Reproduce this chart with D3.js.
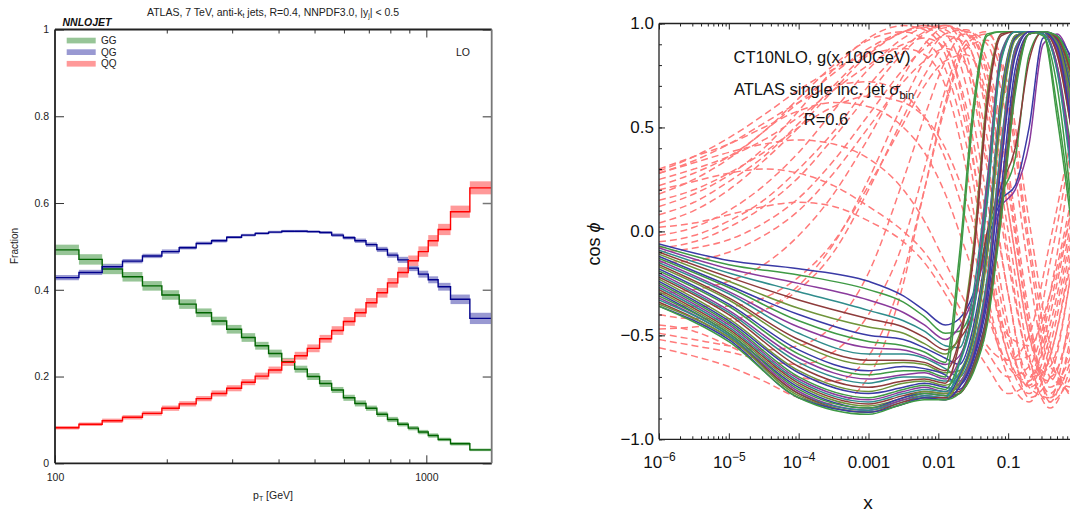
<!DOCTYPE html>
<html>
<head>
<meta charset="utf-8">
<script src="https://cdn.jsdelivr.net/npm/d3@7"></script>
<style>
  body { margin: 0; background: #fff; }
  svg { display: block; font-family: "Liberation Sans", Arial, sans-serif; }
</style>
</head>
<body>
<svg id="chart" width="1070" height="516"></svg>
<script>
// ---- left panel: subprocess fractions per pT bin ----
var ptEdges = [100,116,134,152,172,194,216,240,264,290,318,346,376,408,442,478,516,556,598,642,688,736,786,838,894,952,1012,1076,1162,1310,1530];
var fracGG = [0.492,0.470,0.448,0.430,0.409,0.388,0.367,0.347,0.328,0.309,0.290,0.271,0.253,0.234,0.217,0.200,0.184,0.169,0.151,0.138,0.127,0.113,0.101,0.090,0.081,0.072,0.064,0.055,0.045,0.031];
var fracQG = [0.428,0.440,0.453,0.466,0.478,0.488,0.497,0.507,0.513,0.521,0.526,0.530,0.533,0.535,0.535,0.534,0.532,0.526,0.520,0.513,0.504,0.493,0.480,0.469,0.450,0.436,0.423,0.407,0.378,0.334];
var fracQQ = [0.082,0.090,0.098,0.106,0.115,0.127,0.137,0.149,0.161,0.173,0.187,0.201,0.215,0.233,0.248,0.265,0.287,0.306,0.327,0.347,0.370,0.393,0.416,0.440,0.467,0.488,0.513,0.539,0.580,0.635];
var errGG = [0.012,0.012,0.012,0.011,0.011,0.011,0.011,0.010,0.010,0.010,0.010,0.009,0.009,0.009,0.008,0.008,0.008,0.007,0.007,0.007,0.006,0.006,0.006,0.005,0.005,0.005,0.005,0.004,0.004,0.003];
var errQG = [0.006,0.006,0.006,0.005,0.005,0.005,0.004,0.004,0.004,0.003,0.003,0.003,0.003,0.003,0.003,0.003,0.003,0.004,0.004,0.005,0.005,0.006,0.006,0.007,0.007,0.008,0.008,0.009,0.011,0.013];
var errQQ = [0.004,0.004,0.005,0.005,0.005,0.006,0.006,0.006,0.007,0.007,0.007,0.008,0.008,0.008,0.009,0.009,0.009,0.010,0.010,0.010,0.011,0.011,0.011,0.012,0.012,0.012,0.013,0.013,0.014,0.015];
var channelNames = ["GG","QG","QQ"];
var ptMinorTicks = [200,300,400,500,600,700,800,900];
var fracTicks = [0,0.2,0.4,0.6,0.8,1];

// ---- right panel: correlation cos(phi) vs x ----
var dashedGrid = [-6,-5.5,-5,-4.5,-4,-3.5,-3,-2.5,-2.2,-1.9,-1.6,-1.3,-1.0,-0.7,-0.4,-0.1];
var dashedCurves = [
  [0.28,0.33,0.38,0.42,0.44,0.42,0.35,0.20,0.05,-0.15,-0.35,-0.55,-0.62,-0.50,-0.05,0.45],
  [0.29,0.36,0.45,0.56,0.68,0.78,0.85,0.88,0.85,0.70,0.30,-0.30,-0.65,-0.72,-0.40,0.10],
  [0.18,0.25,0.35,0.48,0.62,0.76,0.88,0.96,0.98,0.90,0.55,-0.10,-0.60,-0.78,-0.55,-0.05],
  [0.04,0.10,0.20,0.34,0.50,0.68,0.85,0.96,0.99,0.95,0.70,0.15,-0.45,-0.80,-0.70,-0.20],
  [0.28,0.34,0.42,0.52,0.62,0.70,0.72,0.66,0.55,0.35,0.05,-0.35,-0.70,-0.82,-0.60,-0.15],
  [-0.02,0.02,0.10,0.22,0.38,0.58,0.78,0.93,0.98,0.99,0.85,0.35,-0.30,-0.75,-0.80,-0.35],
  [0.15,0.20,0.28,0.38,0.50,0.60,0.65,0.62,0.55,0.40,0.15,-0.20,-0.50,-0.55,-0.30,0.15],
  [-0.05,-0.02,0.05,0.15,0.30,0.48,0.70,0.88,0.96,0.99,0.92,0.55,-0.10,-0.65,-0.82,-0.50],
  [-0.08,-0.05,0.02,0.12,0.26,0.45,0.66,0.86,0.95,0.99,0.95,0.70,0.10,-0.50,-0.78,-0.55],
  [0.25,0.30,0.36,0.44,0.55,0.68,0.80,0.90,0.93,0.88,0.60,0.05,-0.50,-0.75,-0.60,-0.10],
  [-0.40,-0.42,-0.42,-0.38,-0.28,-0.10,0.20,0.55,0.75,0.90,0.95,0.75,0.20,-0.45,-0.75,-0.60],
  [-0.47,-0.46,-0.44,-0.38,-0.26,-0.06,0.25,0.62,0.82,0.95,0.97,0.82,0.30,-0.40,-0.82,-0.70],
  [-0.49,-0.52,-0.55,-0.57,-0.55,-0.45,-0.20,0.25,0.55,0.82,0.96,0.90,0.50,-0.20,-0.70,-0.75],
  [-0.56,-0.60,-0.65,-0.72,-0.80,-0.83,-0.70,-0.25,0.20,0.62,0.90,0.95,0.70,0.05,-0.55,-0.80],
  [-0.45,-0.48,-0.55,-0.63,-0.70,-0.72,-0.60,-0.20,0.20,0.60,0.88,0.92,0.60,-0.10,-0.65,-0.72],
  [0.08,0.14,0.24,0.36,0.52,0.70,0.86,0.96,0.99,0.97,0.80,0.30,-0.30,-0.70,-0.65,-0.20],
  [0.20,0.24,0.28,0.30,0.28,0.22,0.12,0.00,-0.10,-0.25,-0.42,-0.58,-0.70,-0.65,-0.30,0.35],
  [0.02,0.04,0.08,0.12,0.14,0.12,0.05,-0.05,-0.15,-0.30,-0.48,-0.65,-0.78,-0.72,-0.35,0.10],
  [-0.10,-0.08,-0.04,0.04,0.16,0.34,0.56,0.78,0.88,0.94,0.90,0.60,0.00,-0.60,-0.85,-0.65],
  [-0.30,-0.28,-0.24,-0.16,-0.02,0.18,0.45,0.75,0.90,0.98,0.96,0.78,0.25,-0.45,-0.80,-0.62],
  [0.12,0.18,0.27,0.40,0.58,0.78,0.93,0.99,0.97,0.85,0.50,-0.05,-0.55,-0.70,-0.45,0.05],
  [0.22,0.28,0.36,0.48,0.64,0.80,0.92,0.96,0.92,0.78,0.42,-0.15,-0.60,-0.74,-0.50,0.00],
  [-0.15,-0.14,-0.10,-0.02,0.10,0.28,0.50,0.72,0.82,0.88,0.80,0.45,-0.15,-0.62,-0.72,-0.40],
  [-0.52,-0.55,-0.58,-0.62,-0.64,-0.58,-0.40,-0.05,0.30,0.68,0.92,0.96,0.65,-0.05,-0.60,-0.78],
  [0.30,0.36,0.42,0.50,0.58,0.62,0.60,0.50,0.38,0.18,-0.10,-0.40,-0.62,-0.60,-0.15,0.40],
  [-0.35,-0.36,-0.36,-0.32,-0.22,-0.05,0.22,0.52,0.70,0.82,0.85,0.65,0.10,-0.50,-0.70,-0.45]
];
var solidGrid = [-6,-5,-4,-3,-2.5,-2.2,-1.9,-1.7,-1.5,-1.3,-1.1,-0.9,-0.7,-0.5,-0.3,-0.1];
var solidCurves = [
  [-0.06,-0.14,-0.18,-0.24,-0.31,-0.38,-0.45,-0.42,-0.30,-0.05,0.15,0.22,0.50,0.93,0.94,0.75],
  [-0.07,-0.16,-0.21,-0.28,-0.34,-0.41,-0.49,-0.48,-0.35,-0.02,0.18,0.35,0.85,0.96,0.80,0.40],
  [-0.08,-0.18,-0.25,-0.33,-0.39,-0.45,-0.52,-0.46,-0.32,-0.08,0.12,0.20,0.42,0.90,0.95,0.82],
  [-0.09,-0.20,-0.29,-0.38,-0.43,-0.48,-0.55,-0.56,-0.30,0.25,0.86,0.96,0.96,0.95,0.78,0.32],
  [-0.10,-0.22,-0.33,-0.42,-0.46,-0.51,-0.57,-0.52,-0.38,0.00,0.22,0.40,0.82,0.96,0.85,0.50],
  [-0.11,-0.24,-0.37,-0.46,-0.49,-0.54,-0.59,-0.50,-0.08,0.66,0.95,0.96,0.96,0.96,0.88,0.55],
  [-0.12,-0.26,-0.40,-0.50,-0.52,-0.56,-0.61,-0.64,-0.46,-0.04,0.66,0.94,0.96,0.96,0.92,0.72],
  [-0.13,-0.27,-0.43,-0.53,-0.55,-0.58,-0.63,-0.12,0.60,0.95,0.96,0.96,0.96,0.95,0.55,0.05],
  [-0.14,-0.29,-0.46,-0.56,-0.57,-0.60,-0.64,-0.60,-0.36,0.22,0.85,0.96,0.96,0.95,0.80,0.36],
  [-0.15,-0.30,-0.49,-0.59,-0.59,-0.61,-0.66,-0.70,-0.56,-0.22,0.42,0.88,0.96,0.96,0.90,0.62],
  [-0.16,-0.32,-0.52,-0.62,-0.62,-0.63,-0.67,-0.52,-0.12,0.62,0.95,0.96,0.96,0.96,0.87,0.52],
  [-0.17,-0.33,-0.54,-0.64,-0.63,-0.64,-0.68,-0.67,-0.49,-0.06,0.64,0.94,0.96,0.96,0.93,0.74],
  [-0.18,-0.35,-0.57,-0.67,-0.65,-0.66,-0.69,-0.74,-0.62,-0.34,0.20,0.78,0.95,0.96,0.93,0.80],
  [-0.19,-0.36,-0.59,-0.69,-0.67,-0.67,-0.70,-0.18,0.55,0.94,0.96,0.96,0.96,0.94,0.70,0.15],
  [-0.20,-0.38,-0.61,-0.71,-0.69,-0.68,-0.71,-0.62,-0.37,0.18,0.84,0.96,0.96,0.95,0.79,0.34],
  [-0.21,-0.39,-0.63,-0.73,-0.70,-0.70,-0.72,-0.72,-0.57,-0.24,0.40,0.88,0.96,0.96,0.91,0.60],
  [-0.22,-0.40,-0.65,-0.75,-0.72,-0.71,-0.73,-0.54,-0.14,0.60,0.94,0.96,0.96,0.96,0.86,0.50],
  [-0.23,-0.42,-0.67,-0.77,-0.73,-0.72,-0.74,-0.68,-0.50,-0.07,0.62,0.94,0.96,0.96,0.92,0.70],
  [-0.24,-0.43,-0.68,-0.78,-0.75,-0.73,-0.75,-0.76,-0.64,-0.39,0.13,0.73,0.95,0.96,0.94,0.84],
  [-0.25,-0.44,-0.70,-0.80,-0.76,-0.74,-0.76,-0.63,-0.38,0.16,0.83,0.96,0.96,0.95,0.60,0.10],
  [-0.26,-0.45,-0.71,-0.81,-0.77,-0.75,-0.77,-0.73,-0.58,-0.26,0.38,0.87,0.96,0.96,0.90,0.58],
  [-0.27,-0.46,-0.72,-0.82,-0.78,-0.76,-0.77,-0.69,-0.51,-0.09,0.60,0.93,0.96,0.96,0.91,0.68],
  [-0.28,-0.47,-0.73,-0.83,-0.79,-0.77,-0.78,-0.77,-0.65,-0.40,0.12,0.72,0.95,0.96,0.93,0.80],
  [-0.29,-0.48,-0.74,-0.84,-0.80,-0.77,-0.78,-0.74,-0.59,-0.27,0.36,0.86,0.96,0.96,0.89,0.56],
  [-0.30,-0.49,-0.75,-0.85,-0.80,-0.78,-0.79,-0.70,-0.52,-0.10,0.58,0.93,0.96,0.96,0.92,0.66],
  [-0.31,-0.49,-0.76,-0.85,-0.81,-0.78,-0.79,-0.78,-0.66,-0.42,0.10,0.70,0.95,0.96,0.94,0.78],
  [-0.32,-0.50,-0.77,-0.86,-0.81,-0.79,-0.80,-0.75,-0.60,-0.28,0.34,0.85,0.96,0.96,0.88,0.54],
  [-0.33,-0.50,-0.78,-0.86,-0.82,-0.79,-0.80,-0.64,-0.40,0.14,0.82,0.96,0.96,0.95,0.77,0.28],
  [-0.34,-0.51,-0.78,-0.87,-0.82,-0.80,-0.80,-0.78,-0.67,-0.43,0.08,0.68,0.95,0.96,0.93,0.76],
  [-0.35,-0.51,-0.79,-0.87,-0.83,-0.80,-0.81,-0.71,-0.53,-0.12,0.56,0.92,0.96,0.96,0.91,0.64],
  [-0.36,-0.52,-0.80,-0.87,-0.83,-0.80,-0.81,-0.75,-0.61,-0.30,0.32,0.84,0.96,0.96,0.89,0.52],
  [-0.36,-0.53,-0.80,-0.88,-0.83,-0.81,-0.81,-0.78,-0.68,-0.45,0.06,0.66,0.95,0.96,0.94,0.80]
];
var solidColors = ["#3a3aa6","#3f9a45","#8a3a9c","#2f8c8c","#8e3b3b","#6f943a"];
var xMajorTicks = [1e-6,1e-5,1e-4,1e-3,1e-2,1e-1,1];
var cosTicks = [-1,-0.5,0,0.5,1];

var svg = d3.select("#chart");

// ================= LEFT PANEL =================
var xL = d3.scaleLog().domain([100,1500]).range([55,491.7]);
var yL = d3.scaleLinear().domain([0,1]).range([463.3,29.5]);

svg.append("clipPath").attr("id","clipL")
   .append("rect").attr("x",55).attr("y",29.5).attr("width",436.7).attr("height",433.8);

var channels = [
  {vals: fracGG, err: errGG, band: "#97c597", line: "#006400"},
  {vals: fracQG, err: errQG, band: "#9999d2", line: "#00008b"},
  {vals: fracQQ, err: errQQ, band: "#ff9999", line: "#ff0000"}
];

var plotL = svg.append("g").attr("clip-path","url(#clipL)");

channels.forEach(function(c) {
  plotL.append("g").selectAll("rect")
    .data(c.vals)
    .enter().append("rect")
    .attr("x", function(d,i) { return xL(ptEdges[i]); })
    .attr("width", function(d,i) { return xL(ptEdges[i+1]) - xL(ptEdges[i]); })
    .attr("y", function(d,i) { return yL(d + c.err[i]); })
    .attr("height", function(d,i) { return yL(d - c.err[i]) - yL(d + c.err[i]); })
    .attr("fill", c.band);
});

var step = d3.line().curve(d3.curveStepAfter)
  .x(function(d) { return xL(d[0]); })
  .y(function(d) { return yL(d[1]); });

channels.forEach(function(c) {
  var pts = c.vals.map(function(v,i) { return [ptEdges[i], v]; });
  pts.push([ptEdges[ptEdges.length-1], c.vals[c.vals.length-1]]);
  plotL.append("path").attr("d", step(pts))
    .attr("fill","none").attr("stroke", c.line).attr("stroke-width",1.4);
});

// axes (ticks point inwards)
var axL = svg.append("g");
axL.append("g").attr("transform","translate(0,463.3)")
  .call(d3.axisBottom(xL).tickValues(ptMinorTicks).tickSizeInner(-4).tickSizeOuter(0).tickFormat(""));
axL.append("g").attr("transform","translate(0,463.3)")
  .call(d3.axisBottom(xL).tickValues([100,1000]).tickSizeInner(-8).tickSizeOuter(0).tickPadding(10).tickFormat(d3.format("d")));
axL.append("g").attr("transform","translate(0,29.5)")
  .call(d3.axisTop(xL).tickValues(ptMinorTicks).tickSizeInner(-4).tickSizeOuter(0).tickFormat(""));
axL.append("g").attr("transform","translate(0,29.5)")
  .call(d3.axisTop(xL).tickValues([1000]).tickSizeInner(-8).tickSizeOuter(0).tickFormat(""));
axL.append("g").attr("transform","translate(55,0)")
  .call(d3.axisLeft(yL).tickValues(fracTicks).tickSizeInner(-9).tickSizeOuter(0).tickPadding(6)
        .tickFormat(function(d) { return (d === 0 || d === 1) ? d : d.toFixed(1); }));
axL.append("g").attr("transform","translate(491.7,0)").attr("class","rgt")
  .call(d3.axisRight(yL).tickValues(fracTicks).tickSizeInner(-9).tickSizeOuter(0).tickFormat(""));
axL.selectAll(".domain").remove();
axL.selectAll("line").attr("stroke","#333");
axL.selectAll(".rgt line").attr("stroke","#777").attr("stroke-width",1.5);
axL.selectAll("text").attr("fill","#222").attr("font-size","10.5px")
  .attr("font-family","Liberation Sans, Arial, sans-serif");

// frame
svg.append("path")
  .attr("d","M55,29.5H491.7M55,463.3H491.7M55,29.5V463.3")
  .attr("stroke","#222").attr("stroke-width",1.8).attr("fill","none");
svg.append("line").attr("x1",491.7).attr("x2",491.7).attr("y1",29.5).attr("y2",463.3)
  .attr("stroke","#777").attr("stroke-width",1.8);

// legend
var leg = svg.append("g").attr("font-size","10px").attr("fill","#222");
channels.forEach(function(c,i) {
  leg.append("rect").attr("x",66.7).attr("y",37.7 + i*11.6).attr("width",29).attr("height",5.7).attr("fill",c.band);
  leg.append("text").attr("x",101).attr("y",44.2 + i*11.6).text(channelNames[i]);
});

// texts
var title = svg.append("text").attr("x",273).attr("y",15.5).attr("text-anchor","middle")
  .attr("font-size","10.5px").attr("fill","#222");
title.append("tspan").text("ATLAS, 7 TeV, anti-k");
title.append("tspan").attr("font-size","7px").attr("dy",2.5).text("t");
title.append("tspan").attr("dy",-2.5).text(" jets, R=0.4, NNPDF3.0, |y");
title.append("tspan").attr("font-size","7px").attr("dy",2.5).text("j");
title.append("tspan").attr("dy",-2.5).text("| < 0.5");

svg.append("text").attr("x",62.5).attr("y",25.5).attr("font-size","10.5px")
  .attr("font-weight","bold").attr("font-style","italic").attr("fill","#111").text("NNLOJET");
svg.append("text").attr("x",456).attr("y",55.5).attr("font-size","10.5px").attr("fill","#222").text("LO");
svg.append("text").attr("transform","translate(17.5,246) rotate(-90)").attr("text-anchor","middle")
  .attr("font-size","10px").attr("fill","#222").text("Fraction");
var ptLab = svg.append("text").attr("x",273).attr("y",498.5).attr("text-anchor","middle")
  .attr("font-size","10.5px").attr("fill","#222");
ptLab.append("tspan").text("p");
ptLab.append("tspan").attr("font-size","7px").attr("dy",2.5).text("T");
ptLab.append("tspan").attr("dy",-2.5).text(" [GeV]");

// ================= RIGHT PANEL =================
var xR = d3.scaleLog().domain([1e-6,1]).range([659,1078]);
var yR = d3.scaleLinear().domain([-1,1]).range([439.3,23.5]);

svg.append("clipPath").attr("id","clipR")
   .append("rect").attr("x",659).attr("y",23.5).attr("width",419).attr("height",415.8);
var plotR = svg.append("g").attr("clip-path","url(#clipR)");

function curveOn(grid) {
  return d3.line()
    .x(function(d,i) { return xR(Math.pow(10, grid[i])); })
    .y(function(d) { return yR(d); })
    .curve(d3.curveMonotoneX);
}

plotR.append("g").selectAll("path")
  .data(dashedCurves)
  .enter().append("path")
  .attr("d", curveOn(dashedGrid))
  .attr("fill","none").attr("stroke","#ff7a7a").attr("stroke-width",1.5)
  .attr("stroke-dasharray","7,4");

plotR.append("g").selectAll("path")
  .data(solidCurves)
  .enter().append("path")
  .attr("d", curveOn(solidGrid))
  .attr("fill","none")
  .attr("stroke", function(d,i) { return solidColors[i % solidColors.length]; })
  .attr("stroke-width",1.5);

// minor tick values
var xMinor = [];
xMajorTicks.slice(0,-1).forEach(function(t) {
  for (var k = 2; k <= 9; k++) xMinor.push(t*k);
});
var yMinor = d3.range(-10,11).map(function(k) { return k/10; });

var axR = svg.append("g");
axR.append("g").attr("transform","translate(0,439.3)")
  .call(d3.axisBottom(xR).tickValues(xMinor).tickSizeInner(-3).tickSizeOuter(0).tickFormat(""));
axR.append("g").attr("transform","translate(0,23.5)")
  .call(d3.axisTop(xR).tickValues(xMinor).tickSizeInner(-3).tickSizeOuter(0).tickFormat(""));
axR.append("g").attr("transform","translate(0,23.5)")
  .call(d3.axisTop(xR).tickValues(xMajorTicks).tickSizeInner(-6).tickSizeOuter(0).tickFormat(""));
var xAx = axR.append("g").attr("transform","translate(0,439.3)")
  .call(d3.axisBottom(xR).tickValues(xMajorTicks).tickSizeInner(-6).tickSizeOuter(0).tickPadding(17)
        .tickFormat(function(d) { return (d >= 1e-3 && d < 1) ? String(+d.toPrecision(1)) : ""; }));
xAx.selectAll(".tick text").each(function(d) {
  if (d < 1e-3) {
    var t = d3.select(this);
    t.append("tspan").text("10");
    t.append("tspan").attr("font-size","12px").attr("dy","-0.6em").text("\u2212" + Math.round(-Math.log10(d)));
  }
});
axR.append("g").attr("transform","translate(659,0)")
  .call(d3.axisLeft(yR).tickValues(yMinor).tickSizeInner(-3).tickSizeOuter(0).tickFormat(""));
axR.append("g").attr("transform","translate(659,0)")
  .call(d3.axisLeft(yR).tickValues(cosTicks).tickSizeInner(-6).tickSizeOuter(0).tickPadding(5)
        .tickFormat(function(d) { return d3.format(".1f")(d).replace("-","\u2212"); }));
axR.selectAll(".domain").remove();
axR.selectAll("line").attr("stroke","#222");
axR.selectAll(".tick text").attr("fill","#111").attr("font-size","17px")
  .attr("font-family","Liberation Sans, Arial, sans-serif");

svg.append("path")
  .attr("d","M659,23.5H1078M659,439.3H1078M659,23.5V439.3")
  .attr("stroke","#222").attr("stroke-width",1.3).attr("fill","none");

// annotations
var ann = svg.append("g").attr("font-size","16.5px").attr("fill","#111").attr("text-anchor","middle");
ann.append("text").attr("x",822).attr("y",63).text("CT10NLO, g(x,100GeV)");
var a2 = ann.append("text").attr("x",824).attr("y",95);
a2.append("tspan").text("ATLAS single inc. jet ");
a2.append("tspan").attr("font-style","italic").text("\u03c3");
a2.append("tspan").attr("font-size","11px").attr("dy",4).text("bin");
ann.append("text").attr("x",826).attr("y",125).text("R=0.6");

var cosLab = svg.append("text").attr("transform","translate(600,244) rotate(-90)")
  .attr("text-anchor","middle").attr("font-size","18px").attr("fill","#111");
cosLab.append("tspan").text("cos ");
cosLab.append("tspan").attr("font-style","italic").text("\u03d5");
svg.append("text").attr("x",868).attr("y",509).attr("text-anchor","middle")
  .attr("font-size","19px").attr("fill","#111").text("x");
</script>
</body>
</html>
